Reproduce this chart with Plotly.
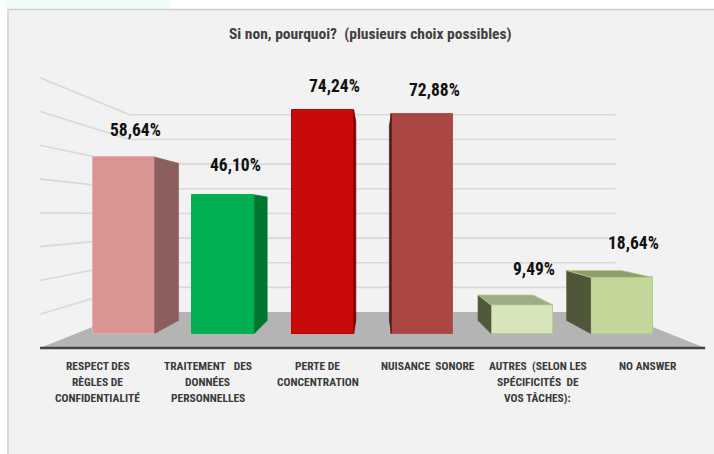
import plotly.graph_objects as go

# ---------------- data ----------------
categories = [
    "RESPECT DES<br>RÈGLES DE<br>CONFIDENTIALITÉ",
    "TRAITEMENT\u00a0\u00a0 DES<br>DONNÉES<br>PERSONNELLES",
    "PERTE DE<br>CONCENTRATION",
    "NUISANCE\u00a0 SONORE",
    "AUTRES\u00a0 (SELON LES<br>SPÉCIFICITÉS\u00a0 DE<br>VOS TÂCHES):",
    "NO ANSWER",
]
values = [58.64, 46.10, 74.24, 72.88, 9.49, 18.64]
grid_values = [10, 20, 30, 40, 50, 60, 70, 80]
title_text = "Si non, pourquoi?\u00a0 (plusieurs choix possibles)"

# ---------------- styles ----------------
front_colors = ["#d99594", "#00b050", "#c80a0a", "#ab4643", "#d8e4bc", "#c4d79b"]
side_colors = ["#8c5f5e", "#00762f", "#7a0000", "#4a1c1c", "#4f5a3d", "#4f5639"]
top_colors = ["#e3aaa9", "#3cc476", "#e02020", "#c46a68", "#9eac86", "#8e9e6b"]
edge_colors = ["#e4b0af", "#00b050", "#c00000", "#b0504d", "#b6cf8a", "#b6cf8a"]

FONT = "Liberation Sans Narrow, Arial Narrow, Roboto Condensed, Liberation Sans, sans-serif"
W, H = 714, 454
PX_X = 99.6          # pixels per category unit
PX_Y = 3.01          # pixels per percent
X_CENTER_PX = 372.6  # pixel of x = 2.5
Y_ZERO_PX = 333.5    # pixel of value 0

VX, VY = 2.5, 39.4   # vanishing point (data coords)
K_BACK_BAR = 0.89    # depth factor of bar back faces
K_WALL = 0.819       # back wall depth factor
K_FRONT = 1.122      # floor front edge depth factor
HALF_W = 0.311       # bar half width
WX0, WX1 = -0.476, 5.476  # world extents of the floor

def P(xw, v, k):
    return (VX + (xw - VX) * k, VY + (v - VY) * k)

xr = [(0 - X_CENTER_PX) / PX_X + 2.5, (W - X_CENTER_PX) / PX_X + 2.5]
yr = [(Y_ZERO_PX - H) / PX_Y, Y_ZERO_PX / PX_Y]

fig = go.Figure()

shapes = []
# mint strip top-left
shapes.append(dict(type="rect", xref="paper", yref="paper", x0=0.005, x1=170 / W,
                   y0=(H - 9) / H, y1=1, fillcolor="#effcf8", line=dict(width=0), layer="below"))
# chart panel
shapes.append(dict(type="rect", xref="paper", yref="paper", x0=8 / W, x1=1.02,
                   y0=-0.02, y1=(H - 9.5) / H, fillcolor="#f2f2f2",
                   line=dict(color="#cfcfcf", width=1.5), layer="below"))

# floor
fl = [P(WX0, 0, K_FRONT), P(WX1, 0, K_FRONT), P(WX1, 0, K_WALL), P(WX0, 0, K_WALL)]
path = "M " + " L ".join(f"{a:.4f},{b:.4f}" for a, b in fl) + " Z"
shapes.append(dict(type="path", xref="x", yref="y", path=path, fillcolor="#b4b4b4",
                   line=dict(width=0), layer="below"))

# gridlines: back wall and left wall
for v in grid_values:
    a = P(WX0, v, K_WALL)
    b = P(WX1, v, K_WALL)
    shapes.append(dict(type="line", xref="x", yref="y", x0=a[0], y0=a[1], x1=b[0], y1=b[1],
                       line=dict(color="#d9d9d9", width=1.6), layer="below"))
    f = P(WX0, v, K_FRONT)
    shapes.append(dict(type="line", xref="x", yref="y", x0=f[0], y0=f[1], x1=a[0], y1=a[1],
                       line=dict(color="#d9d9d9", width=1.6), layer="below"))

# floor front edge
e0 = P(WX0, 0, K_FRONT)
e1 = P(WX1, 0, K_FRONT)
shapes.append(dict(type="line", xref="x", yref="y", x0=e0[0], y0=e0[1], x1=e1[0], y1=e1[1],
                   line=dict(color="#444444", width=2.6), layer="below"))

# front faces of bars
idx = list(range(len(values)))
fig.add_trace(go.Bar(
    x=idx, y=values, width=2 * HALF_W,
    marker=dict(color=front_colors, line=dict(color=edge_colors, width=1)),
    hoverinfo="skip", showlegend=False,
))

# side and top faces
for i, v in enumerate(values):
    xl, xrr = i - HALF_W, i + HALF_W
    if i < VX:
        xe = xrr
    else:
        xe = xl
    b_top = P(xe, v, K_BACK_BAR)
    b_bot = P(xe, 0, K_BACK_BAR)
    sx = [xe, xe, b_top[0], b_bot[0], xe]
    sy = [0, v, b_top[1], b_bot[1], 0]
    fig.add_trace(go.Scatter(x=sx, y=sy, mode="lines", fill="toself",
                             fillcolor=side_colors[i], line=dict(width=0.6, color=side_colors[i]),
                             hoverinfo="skip", showlegend=False))
    if v < VY:
        pl = P(xl, v, K_BACK_BAR)
        pr = P(xrr, v, K_BACK_BAR)
        tx = [xl, xrr, pr[0], pl[0], xl]
        ty = [v, v, pr[1], pl[1], v]
        fig.add_trace(go.Scatter(x=tx, y=ty, mode="lines", fill="toself",
                                 fillcolor=top_colors[i], line=dict(width=0.8, color=edge_colors[i]),
                                 hoverinfo="skip", showlegend=False))

annotations = []
# value labels
for i, v in enumerate(values):
    annotations.append(dict(
        x=i + 0.12, y=12.5 + 0.94 * v, xref="x", yref="y", showarrow=False,
        text="<b>" + f"{v:.2f}".replace(".", ",") + "%</b>",
        font=dict(family=FONT, size=17.5, color="#111111"),
        xanchor="center", yanchor="middle"))

# category labels (placed at the floor's front edge, in perspective)
for i, cat in enumerate(categories):
    cx = VX + (i - VX) * 1.104
    for j, line in enumerate(cat.split("<br>")):
        annotations.append(dict(
            x=cx, y=(Y_ZERO_PX - 366) / PX_Y, xref="x", yref="y", yshift=-16 * j,
            showarrow=False, text="<b>" + line + "</b>",
            font=dict(family=FONT, size=11.5, color="#3a3a3a"),
            xanchor="center", yanchor="middle"))

# title
annotations.append(dict(x=370 / W, y=(H - 34) / H, xref="paper", yref="paper", showarrow=False,
                        text="<b>" + title_text + "</b>",
                        font=dict(family=FONT, size=15.5, color="#404040"),
                        xanchor="center", yanchor="middle"))

fig.update_layout(
    width=W, height=H, autosize=False,
    margin=dict(l=0, r=0, t=0, b=0),
    paper_bgcolor="white", plot_bgcolor="white",
    xaxis=dict(range=xr, visible=False, fixedrange=True),
    yaxis=dict(range=yr, visible=False, fixedrange=True),
    shapes=shapes, annotations=annotations, bargap=0,
    showlegend=False,
)

fig.write_html("out.html", config={"displayModeBar": False},
               post_script="document.body.style.margin='0';")
